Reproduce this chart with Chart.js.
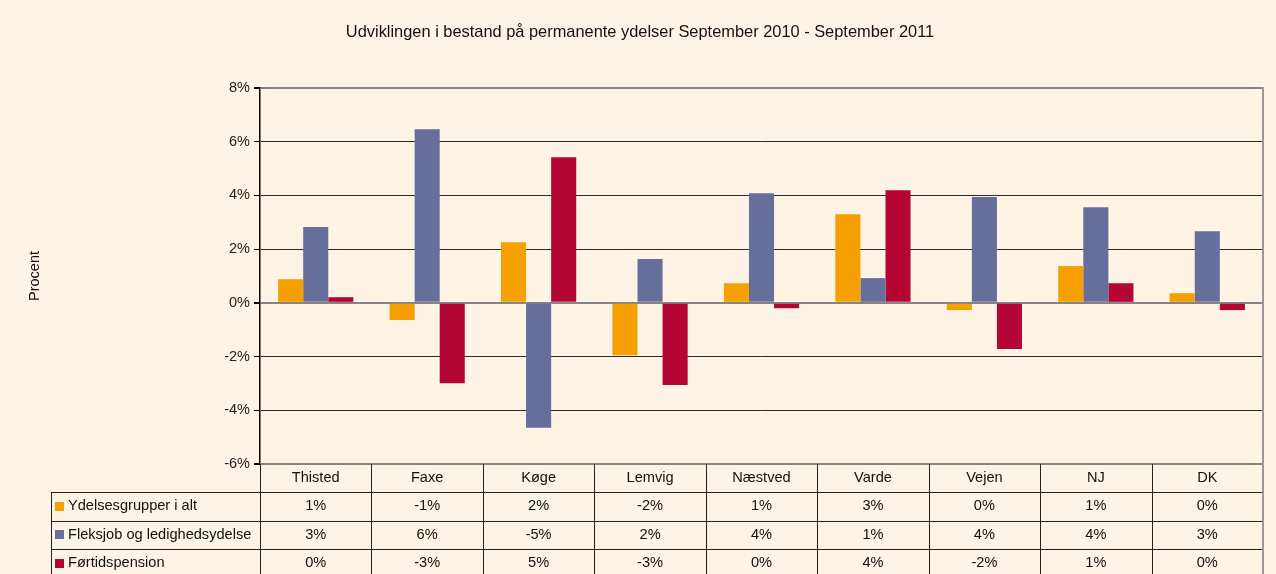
<!DOCTYPE html>
<html>
<head>
<meta charset="utf-8">
<script src="https://cdn.jsdelivr.net/npm/chart.js@4/dist/chart.umd.min.js"></script>
<style>
  html, body { margin: 0; padding: 0; background: #FDF4E5; }
  canvas { display: block; }
</style>
</head>
<body>
<canvas id="chart" width="1276" height="574"></canvas>
<script>
var categories = ["Thisted", "Faxe", "Køge", "Lemvig", "Næstved", "Varde", "Vejen", "NJ", "DK"];
var seriesNames = ["Ydelsesgrupper i alt", "Fleksjob og ledighedsydelse", "Førtidspension"];
var ydelser = [0.88, -0.64, 2.26, -1.95, 0.73, 3.30, -0.27, 1.37, 0.36];
var fleksjob = [2.82, 6.46, -4.65, 1.63, 4.08, 0.92, 3.94, 3.56, 2.67];
var fortid = [0.21, -2.99, 5.42, -3.06, -0.20, 4.19, -1.72, 0.73, -0.27];
var colors = ["#F5A000", "#666E9C", "#B40535"];
var yTicks = [-6, -4, -2, 0, 2, 4, 6, 8];

var FONT = '"Liberation Sans", Arial, sans-serif';

// background + data table under the plot
var tablePlugin = {
    id: 'dataTable',
    beforeDraw: function (chart) {
        var ctx = chart.ctx;
        ctx.save();
        ctx.fillStyle = '#FDF4E5';
        ctx.fillRect(0, 0, chart.width, chart.height);
        ctx.restore();
    },
    afterDraw: function (chart) {
        var ctx = chart.ctx;
        var area = chart.chartArea;
        var allSeries = [ydelser, fleksjob, fortid];
        var colW = (area.right - area.left) / categories.length;
        var headTop = area.bottom;
        var rowTop = headTop + 28;
        var rowH = 28.5;
        var tableLeft = 51;
        ctx.save();
        ctx.font = '14.6px ' + FONT;
        ctx.fillStyle = '#111';
        ctx.textBaseline = 'middle';
        ctx.textAlign = 'center';
        // header row
        for (var i = 0; i < categories.length; i++) {
            ctx.fillText(categories[i], area.left + colW * (i + 0.5), headTop + 14);
        }
        // value rows
        for (var s = 0; s < allSeries.length; s++) {
            var cy = rowTop + rowH * (s + 0.5);
            ctx.textAlign = 'center';
            ctx.fillStyle = '#111';
            for (var j = 0; j < categories.length; j++) {
                var v = Math.round(allSeries[s][j]);
                ctx.fillText((v === 0 ? 0 : v) + '%', area.left + colW * (j + 0.5), cy);
            }
            ctx.fillStyle = colors[s];
            ctx.fillRect(tableLeft + 4, Math.round(cy - 4.5), 9, 9);
            ctx.fillStyle = '#111';
            ctx.textAlign = 'left';
            ctx.fillText(seriesNames[s], tableLeft + 17, cy);
        }
        // grid lines of the table
        ctx.strokeStyle = '#222';
        ctx.lineWidth = 1;
        ctx.beginPath();
        for (var k = 0; k <= categories.length; k++) {
            var x = Math.round(area.left + colW * k) + 0.5;
            ctx.moveTo(x, headTop);
            ctx.lineTo(x, chart.height);
        }
        ctx.moveTo(tableLeft + 0.5, rowTop);
        ctx.lineTo(tableLeft + 0.5, chart.height);
        for (var r = 0; r < 3; r++) {
            var y = Math.round(rowTop + rowH * r) + 0.5;
            ctx.moveTo(tableLeft, y);
            ctx.lineTo(area.right, y);
        }
        ctx.stroke();
        // right frame
        ctx.strokeStyle = '#999';
        ctx.lineWidth = 2;
        ctx.beginPath();
        ctx.moveTo(area.right, area.top - 1);
        ctx.lineTo(area.right, chart.height);
        ctx.stroke();
        ctx.restore();
    }
};

new Chart(document.getElementById('chart').getContext('2d'), {
    type: 'bar',
    data: {
        labels: categories,
        datasets: [
            { label: seriesNames[0], data: ydelser, backgroundColor: colors[0] },
            { label: seriesNames[1], data: fleksjob, backgroundColor: colors[1] },
            { label: seriesNames[2], data: fortid, backgroundColor: colors[2] }
        ]
    },
    options: {
        responsive: false,
        animation: false,
        devicePixelRatio: 1,
        layout: { padding: { left: 17, right: 13, top: 0, bottom: 110 } },
        datasets: { bar: { categoryPercentage: 0.675, barPercentage: 1.0 } },
        plugins: {
            legend: { display: false },
            tooltip: { enabled: false },
            title: {
                display: true,
                text: 'Udviklingen i bestand på permanente ydelser September 2010 - September 2011',
                color: '#111',
                font: { family: FONT, size: 16.4, weight: 'normal' },
                padding: { top: 23, bottom: 45.3 }
            }
        },
        scales: {
            x: { display: false },
            y: {
                min: -6,
                max: 8,
                afterBuildTicks: function (scale) {
                    scale.ticks = yTicks.map(function (v) { return { value: v }; });
                },
                afterFit: function (scale) { scale.width = 243; },
                border: { color: '#000', width: 1.5 },
                grid: {
                    color: function (c) {
                        var v = c.tick && c.tick.value;
                        return (v === 0 || v === -6 || v === 8) ? '#858585' : '#2a2a2a';
                    },
                    lineWidth: function (c) {
                        var v = c.tick && c.tick.value;
                        return (v === 0 || v === -6 || v === 8) ? 2 : 1;
                    },
                    tickColor: '#000',
                    tickLength: 6
                },
                ticks: {
                    padding: 4,
                    color: '#222',
                    font: { family: FONT, size: 14.5 },
                    callback: function (v) { return v + '%'; }
                },
                title: {
                    display: true,
                    text: 'Procent',
                    color: '#111',
                    font: { family: FONT, size: 14.5 },
                    padding: { top: 9.5, bottom: 0 }
                }
            }
        }
    },
    plugins: [tablePlugin]
});
</script>
</body>
</html>
